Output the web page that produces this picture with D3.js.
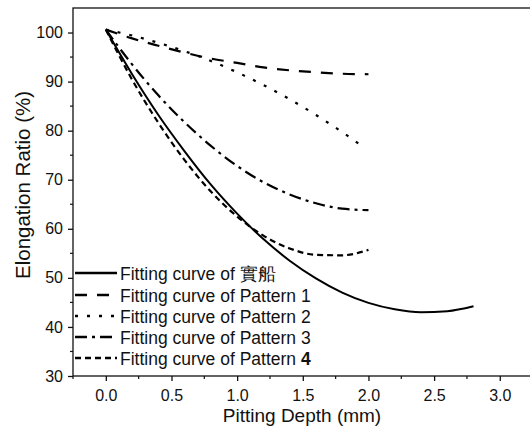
<!DOCTYPE html>
<html>
<head>
<meta charset="utf-8">
<script src="https://cdnjs.cloudflare.com/ajax/libs/d3/7.8.5/d3.min.js"></script>
<style>
body{margin:0;background:#fff}
text{font-family:"Liberation Sans",Arial,sans-serif;fill:#111}
</style>
</head>
<body>
<div id="chart"></div>
<script>
var depth = [0,0.2,0.4,0.6,0.8,1.0,1.2,1.4,1.6,1.8,2.0,2.2,2.4,2.6,2.8]
var ship     = [100.6,91.5,83.2,75.8,69.0,63.1,57.9,53.5,49.9,47.0,44.9,43.6,43.0,43.2,44.2]
var pattern1 = [100.6,98.8,97.3,95.9,94.7,93.8,92.9,92.3,91.9,91.6,91.5]
var depth2   = [0,0.2,0.4,0.6,0.8,1.0,1.2,1.4,1.6,1.8,1.95]
var pattern2 = [100.6,99.4,97.9,96.2,94.2,91.9,89.3,86.4,83.2,79.7,76.9]
var pattern3 = [100.6,93.5,87.2,81.7,76.9,72.8,69.5,67.0,65.2,64.1,63.8]
var pattern4 = [100.6,90.4,81.6,74.0,67.6,62.5,58.6,56.0,54.7,54.6,55.7]
var seriesNames = ["Fitting curve of 實船","Fitting curve of Pattern 1","Fitting curve of Pattern 2","Fitting curve of Pattern 3","Fitting curve of Pattern "]
var dashes = [null,"12,10","3,9","12,5,3,5","6,4"]
var xTicks = [0,0.5,1.0,1.5,2.0,2.5,3.0]
var yTicks = [30,40,50,60,70,80,90,100]

var width = 530, height = 436
var pLeft = 73, pRight = 532.6, pTop = 8, pBottom = 376

var x = d3.scaleLinear().domain([-0.25,3.25]).range([pLeft,pRight])
var y = d3.scaleLinear().domain([30,105]).range([pBottom,pTop])

var svg = d3.select("#chart").append("svg").attr("width",width).attr("height",height)

// frame
svg.append("rect").attr("x",pLeft).attr("y",pTop).attr("width",pRight-pLeft).attr("height",pBottom-pTop)
.attr("fill","none").attr("stroke","#111").attr("stroke-width",1.3)

// minor ticks
var xMinor = d3.range(-0.25,3.3,0.5)
svg.selectAll(".xminor").data(xMinor).enter().append("line")
.attr("x1",function(d){return x(d)}).attr("x2",function(d){return x(d)})
.attr("y1",pBottom).attr("y2",pBottom+3).attr("stroke","#111").attr("stroke-width",1.2)
var yMinor = d3.range(35,105,10)
svg.selectAll(".yminor").data(yMinor).enter().append("line")
.attr("x1",pLeft).attr("x2",pLeft-3)
.attr("y1",function(d){return y(d)}).attr("y2",function(d){return y(d)}).attr("stroke","#111").attr("stroke-width",1.2)

var xAxis = svg.append("g").attr("transform","translate(0,"+pBottom+")")
.call(d3.axisBottom(x).tickValues(xTicks).tickSize(5).tickPadding(9).tickFormat(d3.format(".1f")))
var yAxis = svg.append("g").attr("transform","translate("+pLeft+",0)")
.call(d3.axisLeft(y).tickValues(yTicks).tickSize(5).tickPadding(5))
xAxis.select(".domain").remove()
yAxis.select(".domain").remove()
svg.selectAll(".tick line").attr("stroke","#111").attr("stroke-width",1.3)
svg.selectAll(".tick text").style("font-size","16px").style("font-family","Liberation Sans, Arial, sans-serif").attr("fill","#222")

svg.append("text").text("Pitting Depth (mm)").attr("x",302).attr("y",422)
.attr("text-anchor","middle").style("font-size","19px")
svg.append("text").text("Elongation Ratio (%)")
.attr("transform","translate(30,"+185+") rotate(-90)")
.attr("text-anchor","middle").style("font-size","20.5px")

var line = d3.line().curve(d3.curveMonotoneX)
var curves = [
  {xs:depth,ys:ship},
  {xs:depth.slice(0,pattern1.length),ys:pattern1},
  {xs:depth2,ys:pattern2},
  {xs:depth.slice(0,pattern3.length),ys:pattern3},
  {xs:depth.slice(0,pattern4.length),ys:pattern4}
]
svg.selectAll(".curve").data(curves).enter().append("path")
.attr("d",function(c){return line(c.xs.map(function(v,i){return [x(v),y(c.ys[i])]}))})
.attr("fill","none").attr("stroke","#000").attr("stroke-width",function(c,i){return i==0?2:2.2})
.attr("stroke-dasharray",function(c,i){return dashes[i]})

// legend
var legY = [273,295,316,337,358]
var leg = svg.selectAll(".leg").data(seriesNames).enter().append("g")
.attr("transform",function(d,i){return "translate(0,"+legY[i]+")"})
leg.append("line").attr("x1",pLeft+2).attr("x2",117).attr("y1",0).attr("y2",0)
.attr("stroke","#000").attr("stroke-width",2.4)
.attr("stroke-dasharray",function(d,i){return dashes[i]})
var lt = leg.append("text").attr("x",120).attr("y",6.5).style("font-size","17.5px").text(function(d){return d})
lt.filter(function(d,i){return i==4}).append("tspan").text("4").style("font-weight","bold")
</script>
</body>
</html>
